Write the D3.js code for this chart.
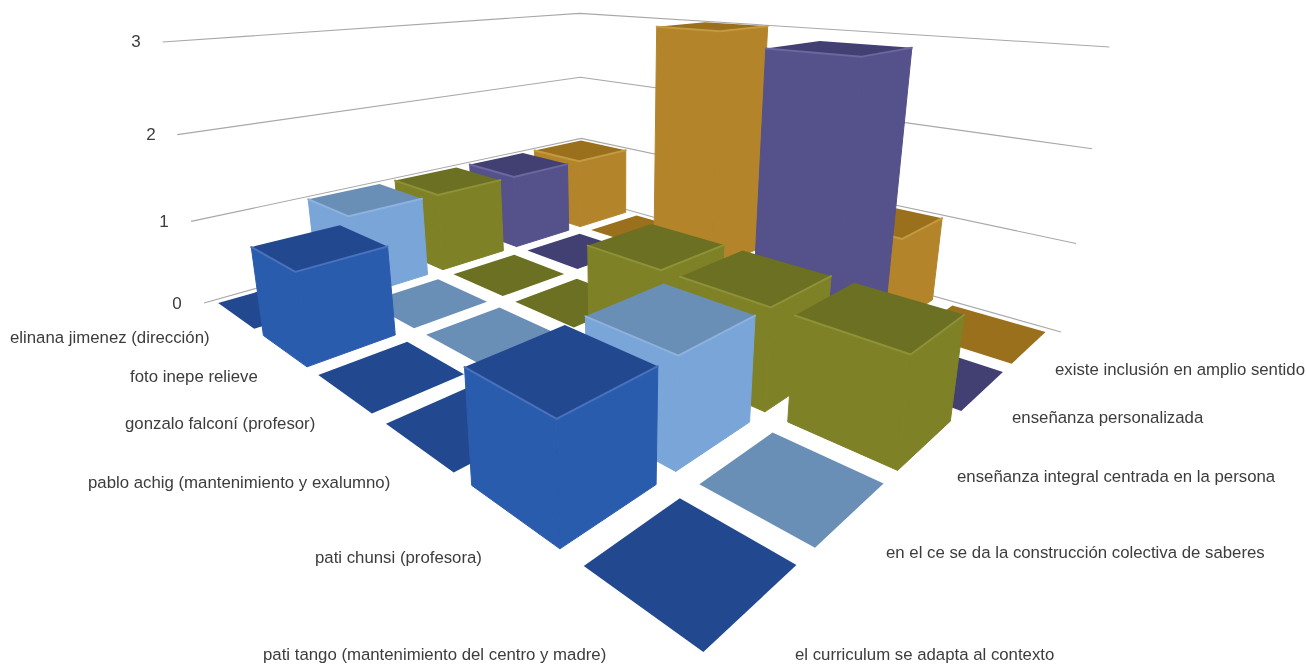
<!DOCTYPE html>
<html><head><meta charset="utf-8">
<script src="https://cdn.jsdelivr.net/npm/d3@7"></script>
<style>html,body{margin:0;padding:0;background:#fff}svg{display:block}text{font-family:"Liberation Sans",Arial,sans-serif;fill:#3c3c3c;font-size:16.8px}</style>
</head><body><svg id="c" width="1306" height="665"></svg>
<script>
const categories = ["elinana jimenez (dirección)","foto inepe relieve","gonzalo falconí (profesor)","pablo achig (mantenimiento y exalumno)","pati chunsi (profesora)","pati tango (mantenimiento del centro y madre)"];
const seriesNames = ["el curriculum se adapta al contexto","en el ce se da la construcción colectiva de saberes","enseñanza integral centrada en la persona","enseñanza personalizada","existe inclusión en amplio sentido"];
const s1 = [0,1,0,0,1,0];
const s2 = [1,0,0,0,1,0];
const s3 = [1,0,0,1,1,1];
const s4 = [1,0,0,0,3,0];
const s5 = [1,0,3,0,1,0];
const seriesValues = [s1,s2,s3,s4,s5];
const ticks = [0,1,2,3];
const sideColors = ["#2b5bae","#7aa5d8","#7f8128","#55518a","#b3842b"];
const topColors  = ["#24498f","#6b8fb6","#6c7020","#423f72","#9a6f1b"];
const edgeColors = ["#4a72bd","#8db2dd","#8e9138","#6a679f","#c29a42"];
// anchors of the projected plot box (floor corners and top-of-axis corners)
const floorL=[204,303], floorB=[582,197], floorR=[1061,332], floorF=[707,676];
const topL=[162,39], topB=[580,16], topR=[1109,46];
const catLabelPos=[[10,343],[130,382],[125,429],[88,488],[315,563],[263,660]];
const serLabelPos=[[795,660],[886,558],[957,482],[1012,423],[1055,375]];
const tickPos=[[177,309],[164,227],[151,140],[136,47]];

function solve(A,b){const n=b.length,M=A.map((r,i)=>[...r,b[i]]);
 for(let i=0;i<n;i++){let p=i;for(let k=i+1;k<n;k++)if(Math.abs(M[k][i])>Math.abs(M[p][i]))p=k;[M[i],M[p]]=[M[p],M[i]];
  for(let k=0;k<n;k++)if(k!==i){const f=M[k][i]/M[i][i];for(let j=i;j<=n;j++)M[k][j]-=f*M[i][j];}}
 return M.map((r,i)=>r[n]/r[i]);}
const U=categories.length,V=seriesNames.length,Z=3;
const corr=[[0,0,floorL],[U,0,floorF],[U,V,floorR],[0,V,floorB]];
const A=[],b=[];
corr.forEach(([u,v,[x,y]])=>{A.push([u,v,1,0,0,0,-x*u,-x*v]);b.push(x);A.push([0,0,0,u,v,1,-y*u,-y*v]);b.push(y);});
const h=solve(A,b);
const H=[[h[0],h[1],h[2]],[h[3],h[4],h[5]],[h[6],h[7],1]];
// vertical column of the camera matrix, least squares
const tops=[[0,0,topL],[0,V,topB],[U,V,topR]];
const N=[[0,0,0],[0,0,0],[0,0,0]],R=[0,0,0];
tops.forEach(([u,v,[x,y]])=>{
 const X=H[0][0]*u+H[0][1]*v+H[0][2],Y=H[1][0]*u+H[1][1]*v+H[1][2],W=H[2][0]*u+H[2][1]*v+H[2][2];
 [[Z,0,-x*Z,x*W-X],[0,Z,-y*Z,y*W-Y]].forEach(e=>{for(let i=0;i<3;i++){R[i]+=e[i]*e[3];for(let j=0;j<3;j++)N[i][j]+=e[i]*e[j];}});});
const col=solve(N,R);
function proj(u,v,z){const X=H[0][0]*u+H[0][1]*v+H[0][2]+col[0]*z,Y=H[1][0]*u+H[1][1]*v+H[1][2]+col[1]*z,W=H[2][0]*u+H[2][1]*v+H[2][2]+col[2]*z;return [X/W,Y/W];}

const uScale=d3.scaleBand().domain(categories).range([0,U]).paddingInner(0.19).paddingOuter(0.095);
const vScale=d3.scaleBand().domain(seriesNames).range([0,V]).paddingInner(0.19).paddingOuter(0.095);
const zScale=d3.scaleLinear().domain([0,3]).range([0,Z]);

const svg=d3.select("#c");
const defs=svg.append("defs");
defs.append("filter").attr("id","soft").append("feGaussianBlur").attr("stdDeviation",0.6);
defs.append("filter").attr("id","softText").append("feGaussianBlur").attr("stdDeviation",0.35);
const line=d3.line();
const wall=svg.append("g").attr("fill","none").attr("stroke","#a8a8a8").attr("stroke-width",1.1);
ticks.forEach(t=>{const z=zScale(t);wall.append("path").attr("d",line([proj(0,0,z),proj(0,V,z),proj(U,V,z)]));});

const rows=[];
categories.forEach((c,i)=>{for(let j=V-1;j>=0;j--)rows.push({i,j,c,s:seriesNames[j],val:seriesValues[j][i]});});
const marks=svg.append("g").attr("filter","url(#soft)");
rows.forEach(d=>{
 const u0=uScale(d.c),u1=u0+uScale.bandwidth(),v0=vScale(d.s),v1=v0+vScale.bandwidth(),z=zScale(d.val);
 const g=marks.append("g");
 const poly=(pts,fill,sw)=>g.append("path").attr("d",line(pts)+"Z").attr("fill",fill).attr("stroke",sw?fill:"none").attr("stroke-width",sw||0).attr("stroke-linejoin","round");
 if(d.val>0){
  poly([proj(u0,v0,0),proj(u1,v0,0),proj(u1,v0,z),proj(u0,v0,z)],sideColors[d.j],1);
  poly([proj(u1,v0,0),proj(u1,v1,0),proj(u1,v1,z),proj(u1,v0,z)],sideColors[d.j],1);
 }
 poly([proj(u0,v0,z),proj(u1,v0,z),proj(u1,v1,z),proj(u0,v1,z)],topColors[d.j],0);
 if(d.val>0){
  g.append("path").attr("d",line([proj(u0,v0,z),proj(u1,v0,z),proj(u1,v1,z)])).attr("fill","none").attr("stroke",edgeColors[d.j]).attr("stroke-width",2).attr("stroke-linejoin","round").attr("stroke-linecap","round");
 }
});
const labels=svg.append("g").attr("filter","url(#softText)");
labels.selectAll(".cat").data(categories).join("text").attr("class","cat").attr("x",(d,i)=>catLabelPos[i][0]).attr("y",(d,i)=>catLabelPos[i][1]).text(d=>d);
labels.selectAll(".ser").data(seriesNames).join("text").attr("class","ser").attr("x",(d,i)=>serLabelPos[i][0]).attr("y",(d,i)=>serLabelPos[i][1]).text(d=>d);
labels.selectAll(".tick").data(ticks).join("text").attr("class","tick").attr("text-anchor","middle").style("font-size","17px").attr("x",(d,i)=>tickPos[i][0]).attr("y",(d,i)=>tickPos[i][1]).text(d=>d);
</script></body></html>
